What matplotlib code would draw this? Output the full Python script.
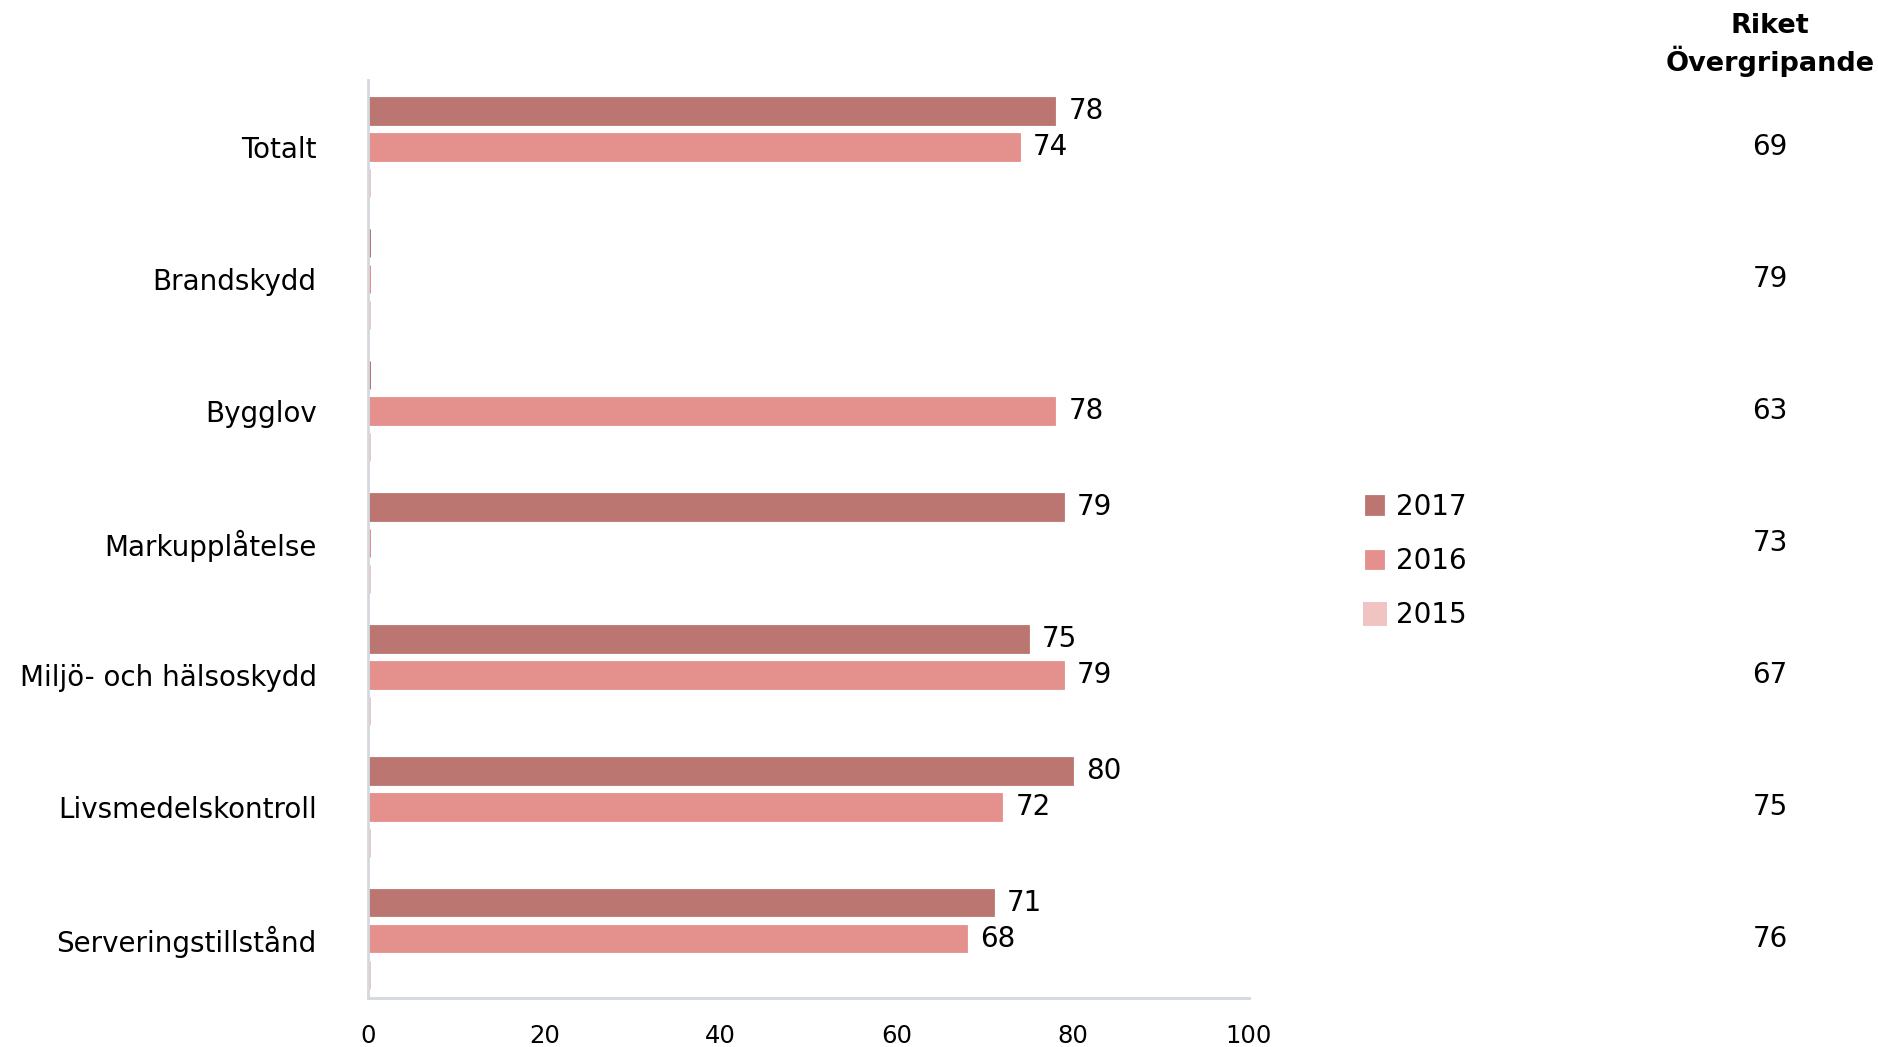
import numpy as np
import matplotlib.pyplot as plt

categories = ["Totalt", "Brandskydd", "Bygglov", "Markupplåtelse",
              "Miljö- och hälsoskydd", "Livsmedelskontroll", "Serveringstillstånd"]
years = ["2017", "2016", "2015"]
v2017 = [78, 0, 0, 79, 75, 80, 71]
v2016 = [74, 0, 78, 0, 79, 72, 68]
v2015 = [0, 0, 0, 0, 0, 0, 0]
riket = [69, 79, 63, 73, 67, 75, 76]
riket_header = "Riket\nÖvergripande"
xticks = [0, 20, 40, 60, 80, 100]

colors = ["#BC7672", "#E4918D", "#F0C4C2"]
series = [v2017, v2016, v2015]

W, H = 1878, 1047
fig = plt.figure(figsize=(W / 100, H / 100), dpi=100)
ax = fig.add_axes([368 / W, 1 - 998 / H, (1249 - 368) / W, (998 - 80) / H])

y = np.arange(len(categories))
step = 0.273
height = 0.21
for i, (vals, col, yr) in enumerate(zip(series, colors, years)):
    pos = y + (i - 1) * step
    # empty values still show as a hairline sliver at zero
    lws = [3.6 if v == 0 else 0.6 for v in vals]
    bars = ax.barh(pos, vals, height=height, color=col, label=yr,
                   edgecolor=col, linewidth=lws, zorder=2)
    for b, v in zip(bars, vals):
        if v > 0:
            ax.text(v + 1.5, b.get_y() + b.get_height() / 2, str(v),
                    va="center", ha="left", fontsize=20, color="black")

ax.set_ylim(len(categories) - 0.55, -0.51)
ax.set_xlim(0, 100)
ax.set_yticks(y)
ax.set_yticklabels(categories, fontsize=20)
ax.set_xticks(xticks)
ax.set_xticklabels([str(t) for t in xticks], fontsize=17.5)
ax.tick_params(axis="both", length=0)
ax.tick_params(axis="y", pad=37)
ax.tick_params(axis="x", pad=19)
for s in ["top", "right"]:
    ax.spines[s].set_visible(False)
for s in ["left", "bottom"]:
    ax.spines[s].set_color("#D3D8DF")
    ax.spines[s].set_linewidth(2)
    ax.spines[s].set_zorder(5)

# National reference column
col_x = 1770 / W
fig.text(col_x, 1 - 45 / H, riket_header, ha="center", va="center",
         fontsize=19.5, fontweight="bold", linespacing=1.3)
for yi, r in zip(y, riket):
    ydisp = ax.transData.transform((0, yi))[1]
    fig.text(col_x, ydisp / H, str(r), ha="center", va="center", fontsize=20)

leg = fig.legend(loc="center left", bbox_to_anchor=(1340 / W, 1 - 561 / H),
                 frameon=False, fontsize=20, handlelength=0.7, handleheight=0.7,
                 handletextpad=0.4, labelspacing=0.95)

fig.savefig("out.png", dpi=100)
